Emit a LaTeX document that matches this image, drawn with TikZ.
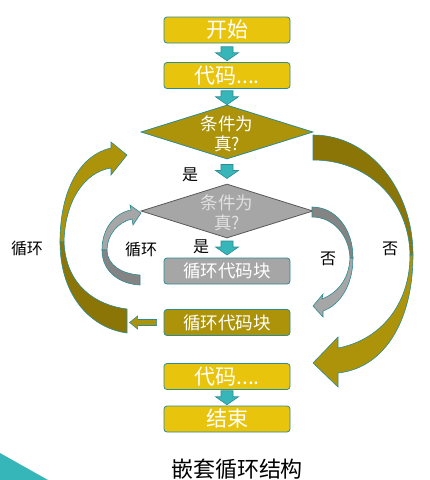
\documentclass[tikz,border=0pt]{standalone}
\usepackage{fontspec}
\setmainfont{Noto Sans CJK SC}
\usepackage{tikz}
\usetikzlibrary{shapes}
\usetikzlibrary{calc}
\usepackage{xcolor}

\definecolor{boxyellow}{HTML}{E8C40C}
\definecolor{loopolive}{HTML}{AC9309}
\definecolor{darkolive}{HTML}{8B7507}
\definecolor{loopgray}{HTML}{A6A6A6}
\definecolor{shadegray}{HTML}{848484}
\definecolor{edgeteal}{HTML}{2B8C94}
\definecolor{arrowteal}{HTML}{36B6B8}

\newcommand\boxfont{\fontsize{21pt}{23pt}\selectfont}
\newcommand\loopfont{\fontsize{17.5pt}{19.5pt}\selectfont}
\newcommand\labfont{\fontsize{16pt}{18pt}\selectfont}

\tikzset{
  stepbox/.style={draw=edgeteal, line width=0.8pt, rounded corners=3pt,
    minimum width=126pt, minimum height=26pt, inner sep=0pt,
    text=white, font=\boxfont},
  cond/.style={diamond, draw, line width=0.8pt, aspect=3.2, inner sep=0pt,
    minimum width=172pt, minimum height=54pt},
  downarr/.pic={
    \filldraw[fill=arrowteal, draw=edgeteal, line width=0.6pt]
      (-6,-7) -- (6,-7) -- (6,-1) -- (11.5,-1) -- (0,7) -- (-11.5,-1) -- (-6,-1) -- cycle;
  }
}

\begin{document}
\begin{tikzpicture}[x=1pt, y=-1pt]
          \useasboundingbox (0,0) rectangle (430,480);
          \fill[arrowteal] (0,453) -- (48,480) -- (0,480) -- cycle;

          \node[stepbox, fill=boxyellow] (start) at (227,30) {开始};
          \node[stepbox, fill=boxyellow] (code1) at (227,75.5) {代码....};
          \node[cond, fill=loopolive, draw=edgeteal,
                label={[text=white, align=center, font=\loopfont, yshift=-2pt]center:条件为\\真?}]
                (cond1) at (227,132) {};
          \node[cond, fill=loopgray, draw=black!65,
                label={[text=black!12, align=center, font=\loopfont, yshift=-2pt]center:条件为\\真?}]
                (cond2) at (227,211) {};
          \node[stepbox, fill=loopgray, font=\loopfont] (loopA) at (227,271) {循环代码块};
          \node[stepbox, fill=loopolive, font=\loopfont] (loopB) at (227,322.5) {循环代码块};
          \node[stepbox, fill=boxyellow] (code2) at (227,376.5) {代码....};
          \node[stepbox, fill=boxyellow] (end) at (227,419) {结束};

          \pic at ($(start.south)!.5!(code1.north)+(0,1)$) {downarr};
          \pic at ($(code1.south)!.5!(cond1.north)+(0,1)$) {downarr};
          \pic at ($(cond1.south)!.5!(cond2.north)$) {downarr};
          \pic at ($(cond2.south)!.5!(loopA.north)$) {downarr};
          \pic at ($(code2.south)!.5!(end.north)$) {downarr};

          \filldraw[fill=loopolive, draw=edgeteal, line width=0.6pt, shift={(loopB.west)}]
            (-7,-3) -- (-26,-3) -- (-26,-6.5) -- (-34,0) -- (-26,6.5) -- (-26,3) -- (-7,3) -- cycle;

          \filldraw[fill=loopolive, draw=edgeteal, line width=0.6pt]
            (60,242) .. controls (60,190) and (80,155) .. (111,148) -- (111,142) -- (127,155)
            -- (111,175) -- (111,168) .. controls (85,172) and (65,200) .. (64,242) -- cycle;
          \filldraw[fill=darkolive, draw=edgeteal, line width=0.6pt]
            (60,242) .. controls (60,295) and (90,328) .. (127,333) -- (127,309)
            .. controls (95,305) and (66,285) .. (64,242) -- cycle;

          \filldraw[fill=darkolive, draw=edgeteal, line width=0.6pt]
            (313,135) .. controls (370,135) and (413,190) .. (413,255) -- (410,255)
            .. controls (409,200) and (368,160) .. (313,160) -- cycle;
          \filldraw[fill=loopolive, draw=edgeteal, line width=0.6pt]
            (413,255) .. controls (413,320) and (385,368) .. (338,373) -- (338,387) -- (313,363)
            -- (338,337) -- (338,348) .. controls (380,340) and (410,305) .. (410,255) -- cycle;

          \filldraw[fill=loopgray, draw=edgeteal, line width=0.6pt]
            (102,250) .. controls (102,228) and (115,213) .. (131,210) -- (130,205) -- (141,213)
            -- (133,225) -- (132,219) .. controls (118,222) and (107,235) .. (107,250) -- cycle;
          \filldraw[fill=shadegray, draw=edgeteal, line width=0.6pt]
            (102,250) .. controls (102,272) and (120,284) .. (140,285) -- (140,275)
            .. controls (122,274) and (107,265) .. (107,250) -- cycle;

          \filldraw[fill=shadegray, draw=edgeteal, line width=0.6pt]
            (312,207) .. controls (335,207) and (353,228) .. (353,258) -- (350,258)
            .. controls (349,235) and (333,217) .. (312,217) -- cycle;
          \filldraw[fill=loopgray, draw=edgeteal, line width=0.6pt]
            (353,258) .. controls (353,285) and (340,305) .. (323,311) -- (323,317) -- (313,306)
            -- (323,294) -- (322,299) .. controls (337,293) and (349,280) .. (350,258) -- cycle;

          \node[font=\labfont] (yes1) at (190,175) {是};
          \node[font=\labfont] (yes2) at (201,247) {是};
          \node[font=\labfont] (loopin) at (141,249) {循环};
          \node[font=\labfont] (loopout) at (27,248) {循环};
          \node[font=\labfont] (noin) at (328,259) {否};
          \node[font=\labfont] (noout) at (390,249) {否};
          \node[font=\fontsize{22pt}{24pt}\selectfont] (title) at (237,469) {嵌套循环结构};
        \end{tikzpicture}
\end{document}
